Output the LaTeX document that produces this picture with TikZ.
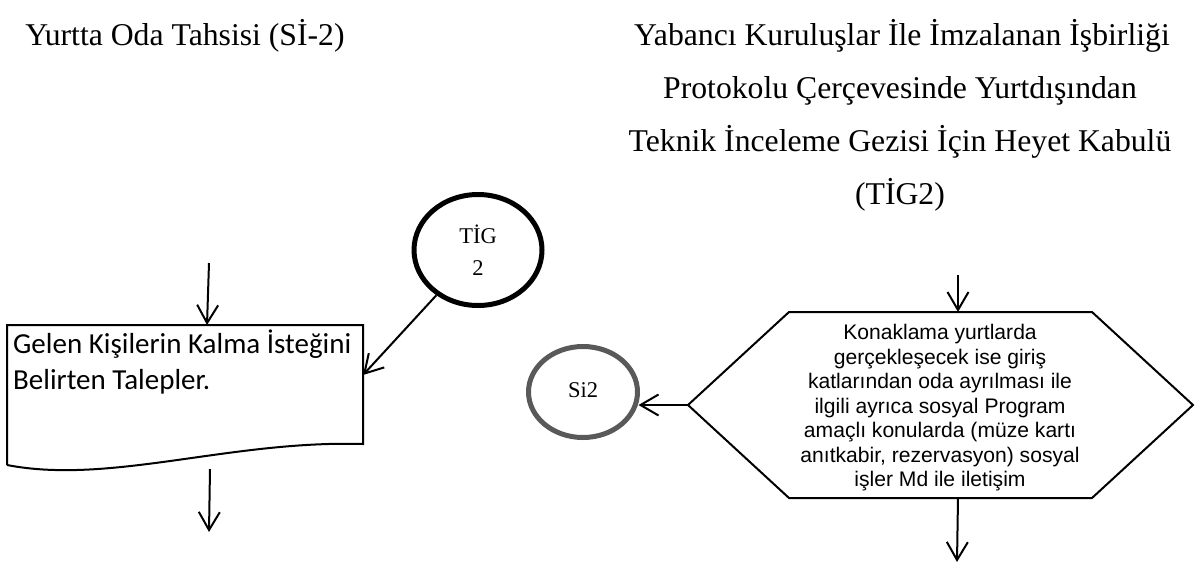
\documentclass[tikz,border=0pt]{standalone}
\usepackage{fontspec}
\setmainfont{Liberation Serif}
\newfontfamily\calibrifont{Carlito}
\newfontfamily\arialfont{Liberation Sans}
\usetikzlibrary{arrows.meta,shapes.geometric}

\tikzset{
  flowline/.style={line width=2pt, -{Straight Barb[length=18pt,width=21pt,line width=2pt]}},
  outline/.style={line width=2pt, line join=miter},
  titletext/.style={inner sep=0pt, anchor=base, font=\fontsize{31.7}{53}\selectfont},
  reqtext/.style={inner sep=0pt, anchor=base west, font=\calibrifont\fontsize{29}{36}\selectfont},
  connector/.style={draw, ellipse, line width=5pt, inner sep=0pt, align=center},
}

\begin{document}
\begin{tikzpicture}[x=1pt, y=-1pt]
  \useasboundingbox (0,0) rectangle (1201,563);

  % headings
  \node[titletext] (titleL) at (185,45) {Yurtta Oda Tahsisi (Sİ-2)};
  \node[titletext] (titleR1) at (902,45) {Yabancı Kuruluşlar İle İmzalanan İşbirliği};
  \node[titletext] (titleR2) at (900,98) {Protokolu Çerçevesinde Yurtdışından};
  \node[titletext] (titleR3) at (900,151) {Teknik İnceleme Gezisi İçin Heyet Kabulü};
  \node[titletext] (titleR4) at (900,204) {(TİG2)};

  % document shape: incoming requests
  \node[inner sep=0pt, minimum width=356pt, minimum height=119pt, anchor=north west] (req) at (7,325) {};
  \draw[outline] (7,465) -- (7,325) -- (363,325) -- (363,444)
        .. controls (230,440) and (110,485) .. (7,465);
  \node[reqtext] (req1) at (13,353) {Gelen Kişilerin Kalma İsteğini};
  \node[reqtext] (req2) at (13,389) {Belirten Talepler.};

  % connector circles
  \node[connector, minimum width=128pt, minimum height=111pt,
        font=\fontsize{22.5}{32}\selectfont] (tig) at (478,250) {TİG\\2};
  \node[connector, draw={rgb,255:red,89;green,89;blue,89}, minimum width=109pt, minimum height=91pt,
        font=\fontsize{22.5}{27}\selectfont] (si2) at (583,392) {\raisebox{4pt}{Si2}};

  % hexagon: preparation step
  \draw[outline] (688,405) -- (789,312) -- (1092,312) -- (1193,405)
        -- (1092,498) -- (789,498) -- cycle;
  \node[inner sep=0pt, align=center, font=\arialfont\fontsize{21.1}{24.5}\selectfont] (hex) at (940,408)
    {Konaklama yurtlarda\\gerçekleşecek ise giriş\\katlarından oda ayrılması ile\\ilgili ayrıca sosyal Program\\amaçlı konularda (müze kartı\\anıtkabir, rezervasyon) sosyal\\işler Md ile iletişim};

  % connector end points
  \coordinate (reqIn) at (209,263);
  \coordinate (reqTop) at (207,325);
  \coordinate (reqBot) at (210,469);
  \coordinate (reqOut) at (209,532);
  \coordinate (reqRight) at (363,375);
  \coordinate (hexIn) at (958,275);
  \coordinate (hexTop) at (958,312);
  \coordinate (hexLeft) at (688,405);
  \coordinate (hexBot) at (958,498);
  \coordinate (hexOut) at (957,562);

  % connectors
  \draw[flowline] (reqIn) -- (reqTop);
  \draw[flowline] (reqBot) -- (reqOut);
  \draw[flowline] (tig) -- (reqRight);
  \draw[flowline] (hexIn) -- (hexTop);
  \draw[flowline] (hexLeft) -- (si2.-11 |- hexLeft);
  \draw[flowline] (hexBot) -- (hexOut);
\end{tikzpicture}
\end{document}
